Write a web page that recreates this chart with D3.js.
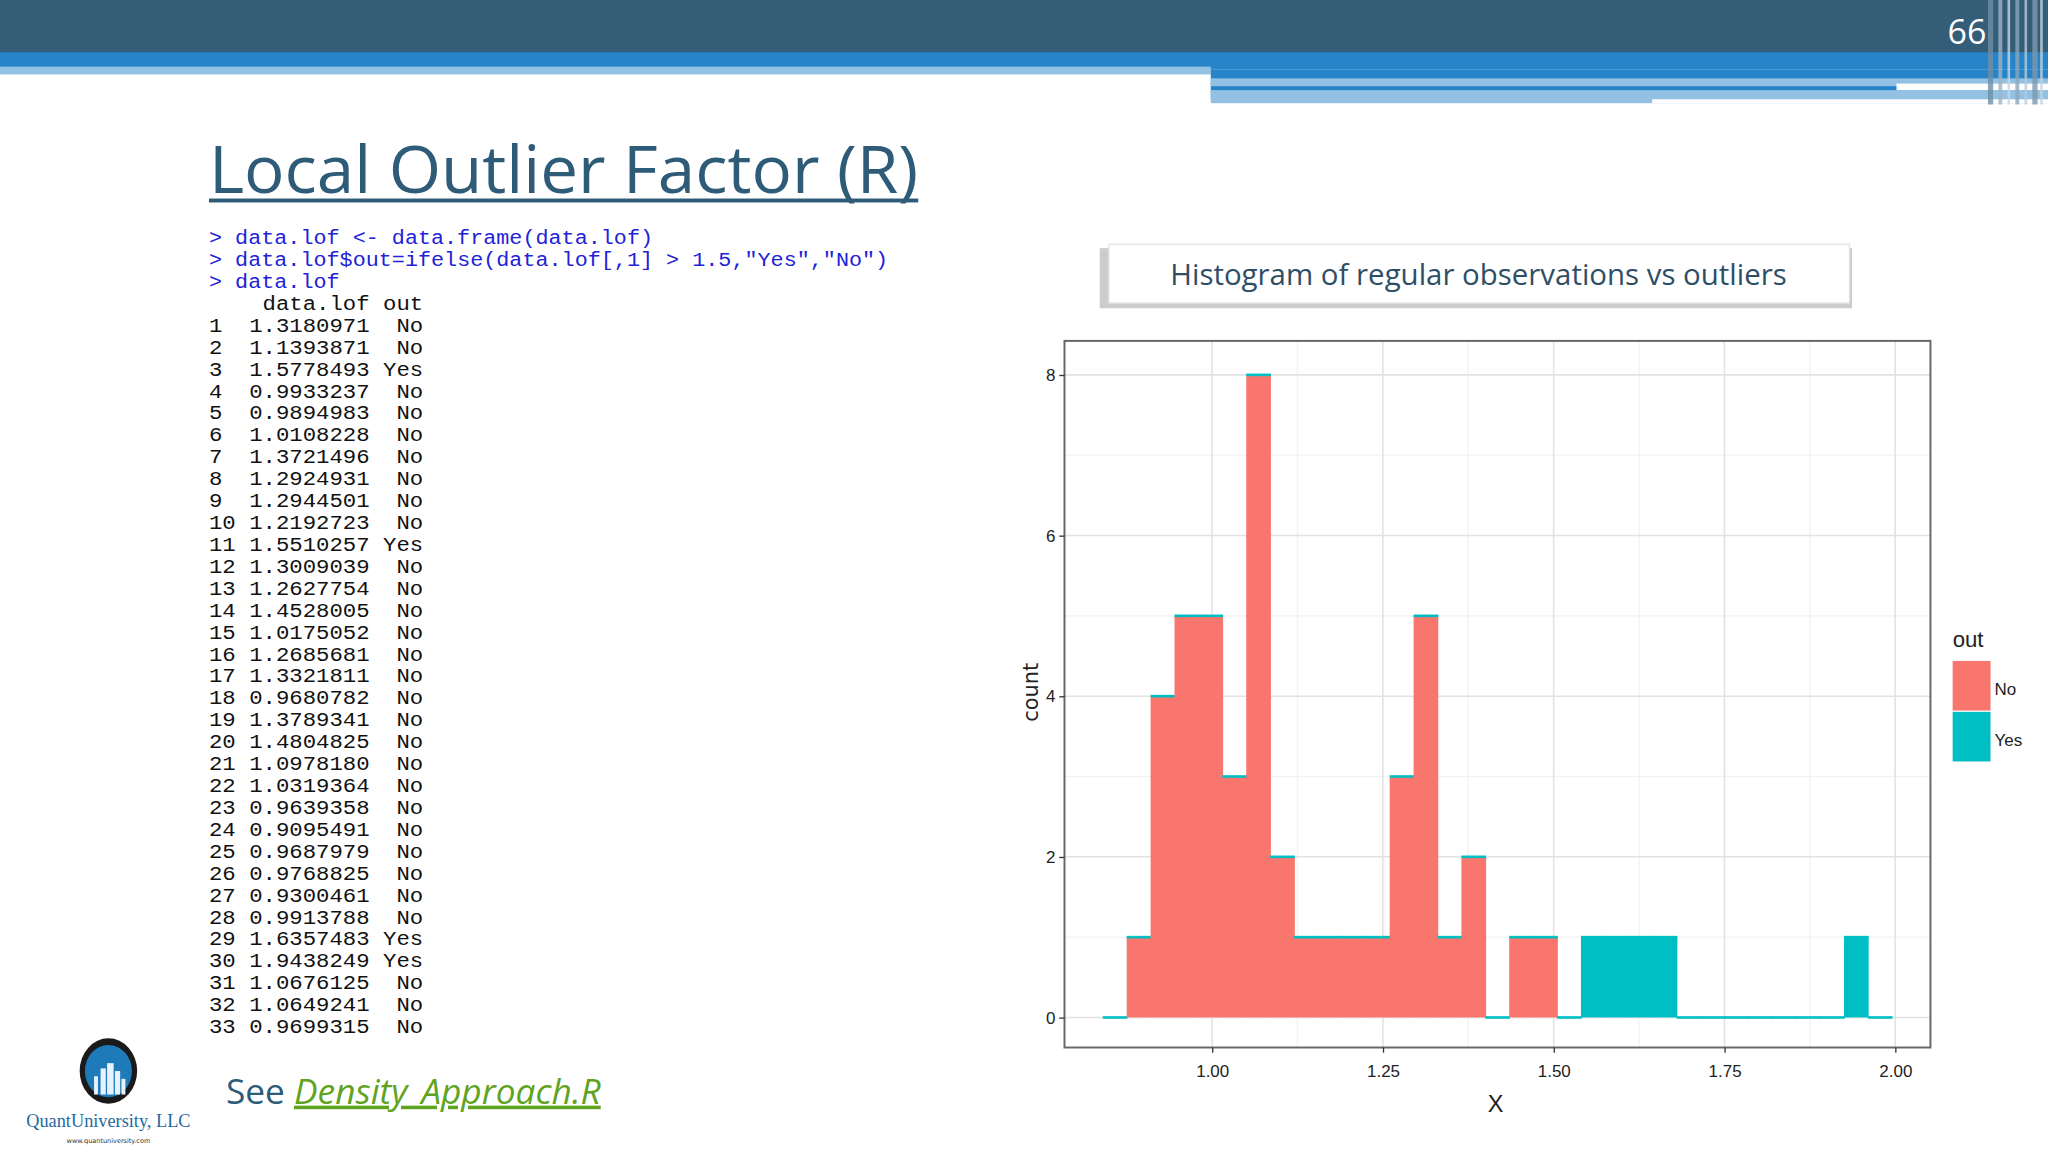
<!DOCTYPE html>
<html><head><meta charset="utf-8">
<script src="https://cdn.jsdelivr.net/npm/d3@7"></script>
<style>body{margin:0;background:#fff;overflow:hidden}</style>
</head><body>
<svg id="s" width="2048" height="1152" viewBox="0 0 1568 882"></svg>
<script>
const lofValues = [1.3180971,1.1393871,1.5778493,0.9933237,0.9894983,1.0108228,1.3721496,1.2924931,1.2944501,1.2192723,1.5510257,1.3009039,1.2627754,1.4528005,1.0175052,1.2685681,1.3321811,0.9680782,1.3789341,1.4804825,1.0978180,1.0319364,0.9639358,0.9095491,0.9687979,0.9768825,0.9300461,0.9913788,1.6357483,1.9438249,1.0676125,1.0649241,0.9699315];
const outLabels = lofValues.map(v => v > 1.5 ? "Yes" : "No");
const binStart = 0.840, binWidth = 0.035;
const countNo  = [0,1,4,5,5,3,8,2,1,1,1,1,3,5,1,2,0,1,1,0,0,0,0,0,0,0,0,0,0,0,0,0,0];
const countYes = [0,0,0,0,0,0,0,0,0,0,0,0,0,0,0,0,0,0,0,0,1,1,1,1,0,0,0,0,0,0,0,1,0];
const xTicks = [1.00,1.25,1.50,1.75,2.00];
const yTicks = [0,2,4,6,8];
const codeLines = ['> data.lof <- data.frame(data.lof)','> data.lof$out=ifelse(data.lof[,1] > 1.5,"Yes","No")','> data.lof'];

const svg = d3.select("#s");
svg.append("rect").attr("x",0).attr("y",0).attr("width",1568).attr("height",41).attr("fill","#345d78");
svg.append("rect").attr("x",0).attr("y",40).attr("width",1568).attr("height",13).attr("fill","#2784c8");
svg.append("rect").attr("x",0).attr("y",51).attr("width",927).attr("height",6).attr("fill","#93c1e3");
svg.append("rect").attr("x",927).attr("y",53).attr("width",641).attr("height",23).attr("fill","#2784c8");
svg.append("rect").attr("x",927).attr("y",60).attr("width",641).attr("height",6).attr("fill","#93c1e3");
svg.append("rect").attr("x",927).attr("y",69).attr("width",641).attr("height",10).attr("fill","#93c1e3");
svg.append("rect").attr("x",1452).attr("y",64).attr("width",116).attr("height",5).attr("fill","#fff");
svg.append("rect").attr("x",1265).attr("y",76).attr("width",303).attr("height",3).attr("fill","#fff");
[[1522,4,"#6f8ea6"],[1530,3,"#9fb4c6"],[1537,2,"#c9d6e0"],[1543,3,"#8aa6bb"],[1550,2,"#b8c9d7"],[1556,4,"#7d99ae"],[1562,2,"#c4d2dd"]]
 .forEach(([x,w,c])=>svg.append("rect").attr("x",x).attr("y",0).attr("width",w).attr("height",80).attr("fill",c).attr("opacity",0.8));
svg.append("text").attr("x",1506).attr("y",34).attr("text-anchor","middle").attr("fill","#fff")
  .attr("font-family","Open Sans").attr("font-size",26).text("66");

svg.append("text").attr("x",160).attr("y",148).attr("fill","#2e5b78").attr("font-family","Open Sans")
  .attr("font-size",50).attr("textLength",543).attr("lengthAdjust","spacingAndGlyphs").text("Local Outlier Factor (R)");
svg.append("rect").attr("x",160).attr("y",152).attr("width",543).attr("height",3).attr("fill","#2e5b78");

const mono = "Liberation Mono";
codeLines.forEach((l,i)=>svg.append("text").attr("x",160).attr("y",187+i*16.8).attr("fill","#2222d8")
  .attr("font-family",mono).attr("font-size",15.5).attr("xml:space","preserve").attr("textLength",l.length*10).attr("lengthAdjust","spacingAndGlyphs").text(l));
const hdr = "    data.lof out";
svg.append("text").attr("x",160).attr("y",237).attr("fill","#111").attr("font-family",mono).attr("font-size",15.5)
  .attr("xml:space","preserve").attr("textLength",hdr.length*10.25).attr("lengthAdjust","spacingAndGlyphs").text(hdr);
lofValues.forEach((v,i)=>{
  const s = String(i+1).padEnd(2," ")+" "+v.toFixed(7)+" "+outLabels[i].padStart(3," ");
  svg.append("text").attr("x",160).attr("y",254+i*16.78).attr("fill","#111").attr("font-family",mono)
    .attr("font-size",15.5).attr("xml:space","preserve").attr("textLength",s.length*10.25).attr("lengthAdjust","spacingAndGlyphs").text(s);
});

svg.append("rect").attr("x",842).attr("y",190).attr("width",576).attr("height",46).attr("fill","#ccc");
svg.append("rect").attr("x",849).attr("y",187).attr("width",567).attr("height",45).attr("fill","#fff")
  .attr("stroke","#e4e4e4");
svg.append("text").attr("x",1132).attr("y",218).attr("text-anchor","middle").attr("fill","#2e4e66")
  .attr("font-family","Open Sans").attr("font-size",22).attr("textLength",472).attr("lengthAdjust","spacingAndGlyphs").text("Histogram of regular observations vs outliers");

const P = {l:815,t:261,r:1478,b:802};
const x = d3.scaleLinear().domain([1,2]).range([928,1451]);
const y = d3.scaleLinear().domain([0,8]).range([779,287]);
const g = svg.append("g");
g.append("rect").attr("x",P.l).attr("y",P.t).attr("width",P.r-P.l).attr("height",P.b-P.t).attr("fill","#fff");
[1.125,1.375,1.625,1.875].forEach(v=>g.append("line").attr("x1",x(v)).attr("x2",x(v)).attr("y1",P.t).attr("y2",P.b).attr("stroke","#f2f2f2"));
[1,3,5,7].forEach(v=>g.append("line").attr("x1",P.l).attr("x2",P.r).attr("y1",y(v)).attr("y2",y(v)).attr("stroke","#f2f2f2"));
xTicks.forEach(v=>g.append("line").attr("x1",x(v)).attr("x2",x(v)).attr("y1",P.t).attr("y2",P.b).attr("stroke","#e2e2e2").attr("stroke-width",1.2));
yTicks.forEach(v=>g.append("line").attr("x1",P.l).attr("x2",P.r).attr("y1",y(v)).attr("y2",y(v)).attr("stroke","#e2e2e2").attr("stroke-width",1.2));
const bins = countNo.map((n,i)=>({x0:binStart+i*binWidth,x1:binStart+(i+1)*binWidth,no:n,yes:countYes[i]}));
bins.forEach(b=>{
  const w = x(b.x1)-x(b.x0)+0.6;
  g.append("rect").attr("x",x(b.x0)).attr("width",w).attr("y",y(b.no)).attr("height",y(0)-y(b.no)).attr("fill","#f8766d");
  const top=b.no+b.yes;
  if(b.yes>0) g.append("rect").attr("x",x(b.x0)).attr("width",w).attr("y",y(top)).attr("height",y(b.no)-y(top)).attr("fill","#00bfc4");
  g.append("rect").attr("x",x(b.x0)).attr("width",w).attr("y",y(top)-1).attr("height",2).attr("fill","#00bfc4");
});
g.append("rect").attr("x",P.l).attr("y",P.t).attr("width",P.r-P.l).attr("height",P.b-P.t).attr("fill","none").attr("stroke","#666").attr("stroke-width",1.5);
const xa = g.append("g").attr("transform",`translate(0,${P.b})`).call(d3.axisBottom(x).tickValues(xTicks).tickFormat(d3.format(".2f")).tickSize(4));
const ya = g.append("g").attr("transform",`translate(${P.l},0)`).call(d3.axisLeft(y).tickValues(yTicks).tickSize(4));
[xa,ya].forEach(a=>{a.select(".domain").remove();a.selectAll("line").attr("stroke","#333");
  a.selectAll("text").attr("font-family","Liberation Sans Narrow, Liberation Sans").attr("font-size",13).attr("fill","#222");});
xa.selectAll("text").attr("dy","1.2em");
svg.append("text").attr("x",1145).attr("y",851).attr("text-anchor","middle").attr("font-family","Liberation Sans")
  .attr("font-size",18).attr("fill","#222").text("X");
svg.append("text").attr("transform","translate(795,530) rotate(-90)").attr("text-anchor","middle")
  .attr("font-family","DejaVu Sans").attr("font-size",16).attr("fill","#222").text("count");

svg.append("text").attr("x",1495).attr("y",495).attr("font-family","Liberation Sans").attr("font-size",17).attr("fill","#222").text("out");
[["No","#f8766d"],["Yes","#00bfc4"]].forEach(([l,c],i)=>{
  svg.append("rect").attr("x",1495).attr("y",506+i*39).attr("width",29).attr("height",38).attr("fill",c);
  svg.append("text").attr("x",1527).attr("y",532+i*39).attr("font-family","Liberation Sans").attr("font-size",13).attr("fill","#222").text(l);
});

svg.append("ellipse").attr("cx",83).attr("cy",820).attr("rx",22).attr("ry",25).attr("fill","#1a1a1a");
svg.append("ellipse").attr("cx",83).attr("cy",820).attr("rx",18).attr("ry",20).attr("fill","#1e7ab8");
[[72,3,14],[77,4,20],[82,5,24],[88,4,18],[93,3,12]].forEach(([bx,w,h])=>svg.append("rect").attr("x",bx).attr("y",838-h).attr("width",w).attr("height",h).attr("fill","#e8f2fa"));
svg.append("text").attr("x",83).attr("y",863).attr("text-anchor","middle").attr("font-family","Liberation Serif").attr("font-size",14).attr("fill","#1e6aa0").text("QuantUniversity, LLC");
svg.append("text").attr("x",83).attr("y",875).attr("text-anchor","middle").attr("font-family","DejaVu Sans").attr("font-size",5).attr("fill","#333").text("www.quantuniversity.com");
const see = svg.append("text").attr("x",173).attr("y",845).attr("font-family","Open Sans").attr("font-size",27);
see.append("tspan").attr("fill","#2e5b78").text("See ");
see.append("tspan").attr("fill","#5fa31e").attr("font-style","italic").attr("text-decoration","underline").text("Density_Approach.R");
</script>
</body></html>
